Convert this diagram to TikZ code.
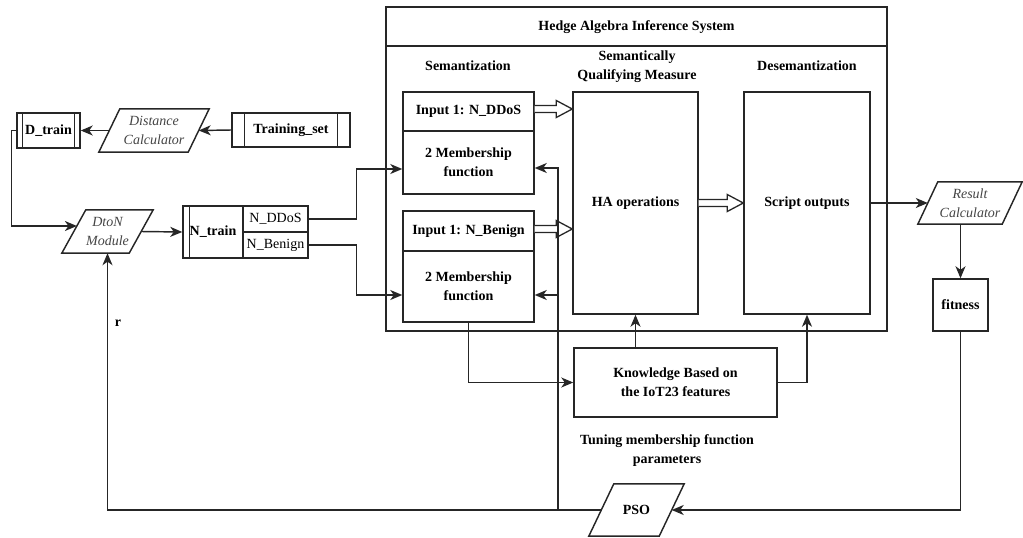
\documentclass[tikz,border=0pt]{standalone}
\usepackage{fontspec}
\setmainfont{Liberation Serif}
\usetikzlibrary{arrows.meta,calc}
\definecolor{lc}{HTML}{262626}
\definecolor{ptext}{HTML}{444444}
\newcommand\dfont{\fontsize{14}{19}\selectfont}

\tikzset{
  ln/.style={draw=lc, line width=1.45pt},
  arr/.style={ln, -{Stealth[length=12pt,width=10pt,inset=3.5pt]}},
  bx/.style={ln, rectangle, inner sep=0pt, align=center, fill=white, font=\dfont\bfseries},
  lbl/.style={inner sep=0pt, align=center, font=\dfont\bfseries},
  pbox/.style={rectangle, inner sep=0pt, align=center, font=\dfont\itshape, text=ptext},
  hol/.style={draw=lc, line width=1.3pt, fill=white, line join=miter},
}

% outline of a parallelogram round node #1, slanted by #2 over its height
\newcommand\paraoutline[2]{%
  \draw[ln, line join=miter] ($(#1.south west)+(-#2/2,0)$) -- ($(#1.north west)+(#2/2,0)$)
    -- ($(#1.north east)+(#2/2,0)$) -- ($(#1.south east)+(-#2/2,0)$) -- cycle;}

% hollow block arrow from point #1 to point #2 (same height)
\newcommand\hollowconn[2]{%
  \draw[hol] let \p1=#1, \p2=#2 in
    (\x1,\y1+3.5pt) -- (\x2-16pt,\y1+3.5pt) -- (\x2-16pt,\y1+8.5pt) -- (\x2,\y1)
    -- (\x2-16pt,\y1-8.5pt) -- (\x2-16pt,\y1-3.5pt) -- (\x1,\y1-3.5pt);}

\begin{document}
\begin{tikzpicture}[x=1pt,y=-1pt]
\useasboundingbox (0,0) rectangle (1023,538);

% Hedge algebra inference system frame
\node[bx, fill=none, minimum width=501pt, minimum height=324pt] (has) at (636.5,169) {};
\coordinate (ttl) at (0,46);
\draw[ln] (has.west |- ttl) -- (has.east |- ttl);
\node[lbl] (hatitle) at (636.5,27) {Hedge Algebra Inference System};
\node[lbl] (semlbl) at (468,66) {Semantization};
\node[lbl] (sqmlbl) at (637,67) {Semantically\\Qualifying Measure};
\node[lbl] (deslbl) at (807,66) {Desemantization};

% semantization blocks
\node[bx, minimum width=131pt, minimum height=39pt] (in1) at (468.5,111.5) {Input 1: N\_DDoS};
\node[bx, minimum width=131pt, minimum height=63pt] (mf1) at (468.5,162.5) {2 Membership\\function};
\node[bx, minimum width=131pt, minimum height=40pt] (in2) at (468.5,231) {Input 1: N\_Benign};
\node[bx, minimum width=131pt, minimum height=71pt] (mf2) at (468.5,286.5) {2 Membership\\function};

% inference and output blocks
\node[bx, minimum width=125pt, minimum height=222pt] (ha) at (635.5,203) {HA operations};
\node[bx, minimum width=126pt, minimum height=222pt] (script) at (807,203) {Script outputs};

% knowledge base and tuning
\node[bx, minimum width=203pt, minimum height=69pt] (know) at (675.5,382.5) {Knowledge Based on\\the IoT23 features};
\node[lbl] (tune) at (667,451) {Tuning membership function\\parameters};
\node[pbox, minimum width=70pt, minimum height=52pt, font=\dfont\bfseries, text=black] (pso) at (636.5,510) {PSO};
\paraoutline{pso}{25}

% result evaluation
\node[pbox, minimum width=84pt, minimum height=42pt] (result) at (970,203) {Result\\Calculator};
\paraoutline{result}{20}
\node[bx, minimum width=55pt, minimum height=52pt] (fit) at (960.5,305) {fitness};

% training data pipeline
\node[bx, minimum width=118pt, minimum height=34pt] (tset) at (291,130) {Training\_set};
\draw[ln] ([xshift=13pt]tset.north west) -- ([xshift=13pt]tset.south west);
\draw[ln] ([xshift=-13pt]tset.north east) -- ([xshift=-13pt]tset.south east);
\node[pbox, minimum width=89pt, minimum height=43pt] (dist) at (154,130.5) {Distance\\Calculator};
\paraoutline{dist}{21}
\node[bx, minimum width=63pt, minimum height=35pt] (dtrain) at (48.5,130.5) {D\_train};
\draw[ln] ([xshift=6pt]dtrain.north west) -- ([xshift=6pt]dtrain.south west);
\draw[ln] ([xshift=-6pt]dtrain.north east) -- ([xshift=-6pt]dtrain.south east);
\node[pbox, minimum width=67pt, minimum height=43pt] (dton) at (107.5,231.5) {DtoN\\Module};
\paraoutline{dton}{24}
\node[bx, minimum width=60pt, minimum height=52pt] (ntrain) at (213,232) {N\_train};
\draw[ln] ([xshift=7pt]ntrain.north west) -- ([xshift=7pt]ntrain.south west);
\node[bx, font=\dfont, minimum width=65pt, minimum height=26pt] (nddos) at (275.5,219) {N\_DDoS};
\node[bx, font=\dfont, minimum width=65pt, minimum height=26pt] (nben) at (275.5,245) {N\_Benign};
\node[lbl] (rlbl) at (118,323) {r};

% connectors of the data pipeline
\draw[arr] (tset.west) -- (dist.east);
\draw[arr] (dist.west) -- (dtrain.east);
\coordinate (dtonin) at ($(dton.west)+(3.1,-5.5)$);
\draw[arr] (dtrain.west) -- ++(-5,0) |- (dtonin);
\draw[arr] (dton.east) -- (ntrain.west);
\draw[arr] (nddos.east) -- ++(48,0) |- ([yshift=-6.5pt]mf1.west);
\draw[arr] (nben.east) -- ++(48,0) |- ([yshift=-8.5pt]mf2.west);

% hollow arrows between the stages
\hollowconn{([yshift=2.5pt]in1.east)}{([yshift=2.5pt]in1.east -| ha.west)}
\hollowconn{([yshift=2pt]in2.east)}{([yshift=2pt]in2.east -| ha.west)}
\hollowconn{(ha.east)}{(script.west)}

% knowledge base connectors
\draw[arr] (mf2.south) |- (know.west);
\draw[arr] (know.north -| ha.south) -- (ha.south);
\draw[arr] (know.east) -| (script.south);

% evaluation and optimisation loop
\draw[arr] (script.east) -- (result.west);
\draw[arr] (result.south -| fit.north) -- (fit.north);
\draw[arr] (fit.south) |- (pso.east);
\path (pso.west) ++(-43.5,0) coordinate (fb);
\draw[arr] (pso.west) -| (dton.south);
\draw[arr] (fb) |- ([yshift=-5.5pt]mf1.east);
\draw[arr] (fb) |- ([yshift=-8.5pt]mf2.east);
\end{tikzpicture}
\end{document}
